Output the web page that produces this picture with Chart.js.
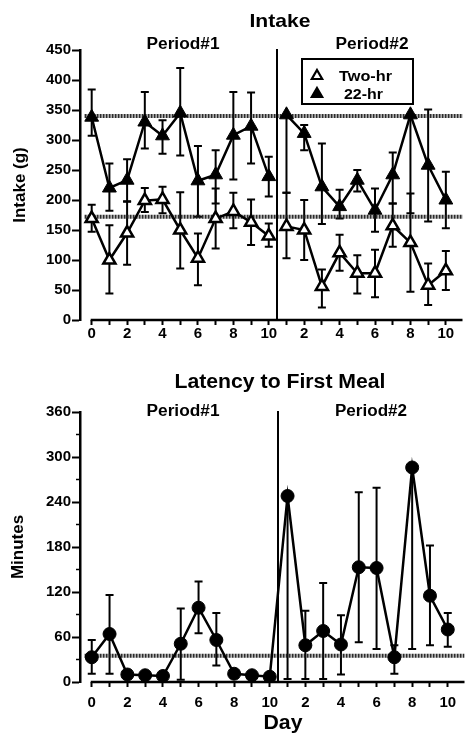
<!DOCTYPE html>
<html>
<head>
<meta charset="utf-8">
<script src="https://cdn.jsdelivr.net/npm/chart.js@4.4.1/dist/chart.umd.min.js"></script>
<style>
html, body { margin: 0; padding: 0; background: #fff; }
canvas { display: block; }
</style>
</head>
<body>
<canvas id="intake" width="472" height="360"></canvas>
<canvas id="latency" width="472" height="376"></canvas>
<script>
// days of each period; period 2 is plotted right after period 1 (position = day + 10)
var P1_DAYS = [0, 1, 2, 3, 4, 5, 6, 7, 8, 9, 10];
var P2_DAYS = [1, 2, 3, 4, 5, 6, 7, 8, 9, 10];
var P2_OFFSET = 10;
var DIVIDER_AT = 10.45;

// intake (g), two-hr group: mean, top and bottom of error bar
var TWO_HR_P1 = [169, 100, 145, 199, 201, 150, 103, 169, 181, 163, 140];
var TWO_HR_P1_HI = [192, 158, 198, 220, 222, 213, 144, 219, 212, 201, 161];
var TWO_HR_P1_LO = [147, 44, 92, 180, 178, 86, 58, 119, 153, 125, 122];
var TWO_HR_P2 = [156, 150, 56, 112, 78, 78, 157, 129, 58, 82];
var TWO_HR_P2_HI = [212, 200, 84, 142, 108, 117, 194, 211, 94, 115];
var TWO_HR_P2_LO = [103, 100, 21, 82, 44, 38, 122, 47, 25, 50];

// intake (g), 22-hr group
var HR22_P1 = [338, 220, 233, 330, 307, 345, 232, 242, 308, 323, 239];
var HR22_P1_HI = [384, 261, 268, 380, 333, 420, 290, 283, 380, 379, 272];
var HR22_P1_LO = [307, 182, 197, 286, 277, 274, 172, 194, 234, 261, 206];
var HR22_P2 = [342, 311, 222, 189, 233, 183, 242, 342, 258, 200];
var HR22_P2_HI = [342, 325, 294, 217, 250, 219, 279, 342, 351, 247];
var HR22_P2_LO = [212, 283, 160, 169, 214, 147, 194, 178, 164, 153];

// baseline means (dotted lines)
var INTAKE_REF = [340, 172];
var LATENCY_REF = [35];

// latency to first meal (min), period 1 then period 2
var LAT_P1 = [33, 64, 10, 9, 8, 51, 99, 56, 11, 9, 7];
var LAT_P1_HI = [56, 116, 10, 9, 8, 98, 134, 92, 11, 9, 7];
var LAT_P1_LO = [11, 11, 10, 9, 8, 3, 65, 22, 11, 9, 7];
var LAT_P2 = [248, 49, 68, 50, 153, 152, 33, 286, 115, 70];
var LAT_P2_HI = [248, 95, 132, 89, 253, 259, 49, 286, 182, 92];
var LAT_P2_LO = [4, 4, 4, 10, 53, 44, 11, 44, 49, 47];

var FONT = '"Liberation Sans", Arial, Helvetica, sans-serif';
Chart.defaults.font.family = FONT;
Chart.defaults.font.weight = 'bold';
Chart.defaults.color = '#000';

function pts(days, vals, offset) {
    return days.map(function(d, i) { return {x: d + offset, y: vals[i]}; });
}

function refLine(v) {
    return {
        type: 'line',
        data: [{x: -0.4, y: v}, {x: 21.5, y: v}],
        borderColor: 'rgba(25,25,25,0.92)',
        borderWidth: 4,
        borderDash: [2, 1],
        pointRadius: 0,
        order: 5
    };
}

function series(data, hi, lo, style, filled) {
    return {
        type: 'line',
        data: data,
        errHi: hi,
        errLo: lo,
        borderColor: '#000',
        borderWidth: 2.5,
        pointStyle: style,
        pointRadius: style === 'circle' ? 6.5 : (filled ? 8 : 7),
        pointBackgroundColor: filled ? '#000' : '#fff',
        pointBorderColor: '#000',
        pointBorderWidth: filled ? 1 : 2.5,
        order: 1
    };
}

// error bars under the markers
var errorBars = {
    id: 'errorBars',
    beforeDatasetsDraw: function(chart) {
        var ctx = chart.ctx, xs = chart.scales.x, ys = chart.scales.y, a = chart.chartArea;
        ctx.save();
        ctx.beginPath();
        ctx.rect(a.left, a.top - 2, a.right - a.left, a.bottom - a.top + 4);
        ctx.clip();
        ctx.strokeStyle = '#000';
        ctx.lineWidth = 2;
        chart.data.datasets.forEach(function(ds) {
            if (!ds.errHi) return;
            ds.data.forEach(function(p, i) {
                var px = xs.getPixelForValue(p.x);
                var hi = ys.getPixelForValue(ds.errHi[i]);
                var lo = ys.getPixelForValue(ds.errLo[i]);
                ctx.beginPath();
                ctx.moveTo(px, hi);
                ctx.lineTo(px, lo);
                if (ds.errHi[i] > p.y) { ctx.moveTo(px - 4, hi); ctx.lineTo(px + 4, hi); }
                if (ds.errLo[i] < p.y) { ctx.moveTo(px - 4, lo); ctx.lineTo(px + 4, lo); }
                ctx.stroke();
            });
        });
        ctx.restore();
    }
};

function fitText(ctx, t) {
    ctx.save();
    ctx.font = 'bold ' + t.size + 'px ' + FONT;
    var sx = t.width ? t.width / ctx.measureText(t.text).width : 1;
    ctx.translate(t.x, t.y);
    ctx.scale(sx, 1);
    ctx.textAlign = t.align || 'center';
    ctx.textBaseline = 'alphabetic';
    ctx.fillStyle = '#000';
    ctx.fillText(t.text, 0, 0);
    ctx.restore();
}

function triangle(ctx, x, y, r, filled) {
    ctx.beginPath();
    ctx.moveTo(x, y - r);
    ctx.lineTo(x + r * 0.866, y + r * 0.5);
    ctx.lineTo(x - r * 0.866, y + r * 0.5);
    ctx.closePath();
    ctx.fillStyle = filled ? '#000' : '#fff';
    ctx.fill();
    ctx.lineWidth = 2.2;
    ctx.strokeStyle = '#000';
    ctx.stroke();
}

// x axis line, period divider, minor y ticks, titles, legend box
var frame = {
    id: 'frame',
    afterDraw: function(chart, args, opts) {
        var ctx = chart.ctx, xs = chart.scales.x, ys = chart.scales.y, a = chart.chartArea;
        ctx.save();
        ctx.strokeStyle = '#000';
        ctx.lineWidth = 2.5;
        ctx.beginPath();
        ctx.moveTo(xs.getPixelForValue(0) - 1, a.bottom);
        ctx.lineTo(a.right, a.bottom);
        ctx.stroke();
        ctx.lineWidth = 2;
        var dx = Math.round(xs.getPixelForValue(DIVIDER_AT));
        ctx.beginPath();
        ctx.moveTo(dx, a.top - 1);
        ctx.lineTo(dx, a.bottom);
        ctx.stroke();
        ctx.lineWidth = 1.5;
        ys.ticks.forEach(function(t) {
            if (t.value % opts.major === 0) return;
            var py = ys.getPixelForValue(t.value);
            ctx.beginPath();
            ctx.moveTo(a.left - 4, py);
            ctx.lineTo(a.left, py);
            ctx.stroke();
        });
        ctx.restore();
        opts.texts.forEach(function(t) { fitText(ctx, t); });
        if (opts.legend) {
            var L = opts.legend;
            ctx.save();
            ctx.lineWidth = 2;
            ctx.strokeStyle = '#000';
            ctx.fillStyle = '#fff';
            ctx.fillRect(L.x, L.y, L.w, L.h);
            ctx.strokeRect(L.x, L.y, L.w, L.h);
            triangle(ctx, L.x + 15, L.y + 17, 6, false);
            triangle(ctx, L.x + 15, L.y + 35, 6, true);
            ctx.restore();
            fitText(ctx, {text: L.labels[0], x: L.x + 37, y: L.y + 22, size: 15, width: 53, align: 'left'});
            fitText(ctx, {text: L.labels[1], x: L.x + 42, y: L.y + 40, size: 15, width: 39, align: 'left'});
        }
    }
};

function xScale(labelPad) {
    return {
        type: 'linear',
        min: -0.66,
        max: 20.94,
        afterBuildTicks: function(s) {
            var t = [];
            for (var v = 0; v <= 20; v++) t.push({value: v});
            s.ticks = t;
        },
        afterFit: function(s) { s.height = labelPad.height; },
        border: {display: false},
        grid: {drawOnChartArea: false, drawTicks: true, tickLength: 5, tickWidth: 2, tickColor: '#000'},
        ticks: {
            padding: labelPad.pad,
            maxRotation: 0,
            autoSkip: false,
            font: {size: 15, weight: 'bold'},
            callback: function(v) {
                if (v % 2 !== 0) return '';
                return v <= P2_OFFSET ? String(v) : String(v - P2_OFFSET);
            }
        }
    };
}

function yScale(max, step, major, title, titlePad) {
    return {
        type: 'linear',
        min: 0,
        max: max,
        afterFit: function(s) { s.width = 80; },
        border: {display: true, color: '#000', width: 2.5},
        grid: {
            drawOnChartArea: false,
            tickLength: 8,
            tickWidth: 2,
            tickColor: function(c) { return c.tick && c.tick.value % major === 0 ? '#000' : 'rgba(0,0,0,0)'; }
        },
        ticks: {
            stepSize: step,
            padding: 1,
            font: {size: 15, weight: 'bold'},
            callback: function(v) { return v % major === 0 ? String(v) : ''; }
        },
        title: {
            display: true,
            text: title,
            font: {size: 17, weight: 'bold'},
            padding: {top: titlePad, bottom: 0}
        }
    };
}

new Chart(document.getElementById('intake'), {
    type: 'line',
    data: {
        datasets: [
            refLine(INTAKE_REF[0]),
            refLine(INTAKE_REF[1]),
            series(pts(P1_DAYS, HR22_P1, 0), HR22_P1_HI, HR22_P1_LO, 'triangle', true),
            series(pts(P2_DAYS, HR22_P2, P2_OFFSET), HR22_P2_HI, HR22_P2_LO, 'triangle', true),
            series(pts(P1_DAYS, TWO_HR_P1, 0), TWO_HR_P1_HI, TWO_HR_P1_LO, 'triangle', false),
            series(pts(P2_DAYS, TWO_HR_P2, P2_OFFSET), TWO_HR_P2_HI, TWO_HR_P2_LO, 'triangle', false)
        ]
    },
    options: {
        responsive: false,
        animation: false,
        devicePixelRatio: 1,
        layout: {padding: {top: 50, left: 0, right: 0, bottom: 0}},
        scales: {
            x: xScale({height: 40, pad: 0}),
            y: yScale(450, 25, 50, 'Intake (g)', 10)
        },
        plugins: {
            legend: {display: false},
            tooltip: {enabled: false},
            frame: {
                major: 50,
                texts: [
                    {text: 'Intake', x: 280, y: 27, size: 19, width: 61},
                    {text: 'Period#1', x: 183, y: 49, size: 16, width: 73},
                    {text: 'Period#2', x: 372, y: 49, size: 16, width: 73}
                ],
                legend: {x: 302, y: 59, w: 111, h: 45, labels: ['Two-hr', '22-hr']}
            }
        }
    },
    plugins: [errorBars, frame]
});

new Chart(document.getElementById('latency'), {
    type: 'line',
    data: {
        datasets: [
            refLine(LATENCY_REF[0]),
            series(pts(P1_DAYS, LAT_P1, 0).concat(pts(P2_DAYS, LAT_P2, P2_OFFSET)),
                LAT_P1_HI.concat(LAT_P2_HI), LAT_P1_LO.concat(LAT_P2_LO), 'circle', true)
        ]
    },
    options: {
        responsive: false,
        animation: false,
        devicePixelRatio: 1,
        layout: {padding: {top: 52, left: 0, right: 0, bottom: 0}},
        scales: {
            x: xScale({height: 54, pad: 7}),
            y: yScale(360, 30, 60, 'Minutes', 8)
        },
        plugins: {
            legend: {display: false},
            tooltip: {enabled: false},
            frame: {
                major: 60,
                texts: [
                    {text: 'Latency to First Meal', x: 280, y: 28, size: 20, width: 211},
                    {text: 'Period#1', x: 183, y: 56, size: 16, width: 73},
                    {text: 'Period#2', x: 371, y: 56, size: 16, width: 72},
                    {text: 'Day', x: 283, y: 369, size: 20, width: 39}
                ]
            }
        }
    },
    plugins: [errorBars, frame]
});
</script>
</body>
</html>
